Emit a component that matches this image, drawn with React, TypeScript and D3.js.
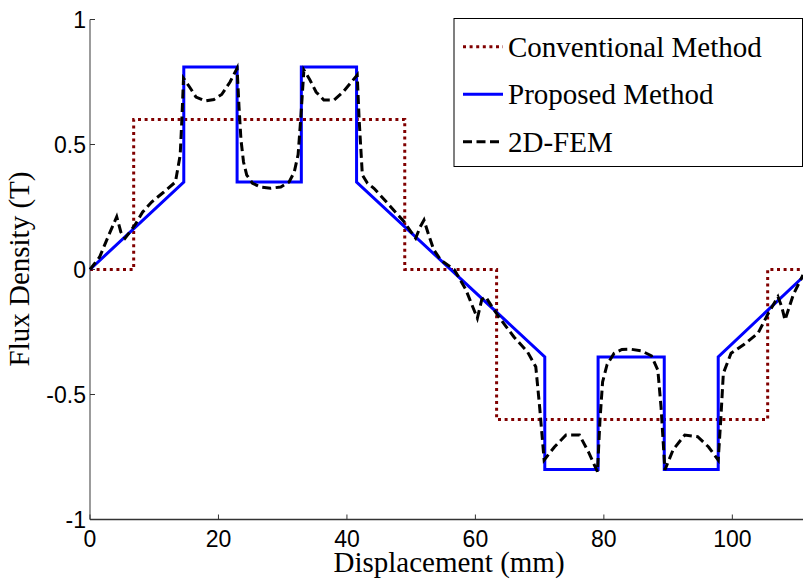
import React, { useEffect, useRef } from "react";
import * as d3 from "d3";

// Conventional method (step waveform)
const convX = [0, 6.8, 6.8, 49.0, 49.0, 63.3, 63.3, 105.5, 105.5, 111];
const convY = [0, 0, 0.6, 0.6, 0, 0, -0.6, -0.6, 0, 0];

// Proposed method
const propX = [0, 14.6, 14.6, 22.9, 22.9, 32.9, 32.9, 41.5, 41.5, 70.8, 70.8, 79.1, 79.1, 89.4, 89.4, 97.8, 97.8, 111];
const propY = [0, 0.35, 0.81, 0.81, 0.35, 0.35, 0.81, 0.81, 0.35, -0.35, -0.8, -0.8, -0.35, -0.35, -0.8, -0.8, -0.35, -0.03];

// 2D-FEM
const femX = [
  0, 1.5, 2.8, 4.16, 4.8, 5.46, 6.2, 7.0, 8.2, 9.6, 11.5, 13.3, 14.04, 14.3, 14.56,
  15.5, 16.5, 17.9, 19.3, 20.5, 21.8, 22.9,
  23.2, 23.5, 23.9, 24.4, 25.3, 26.5, 28.1, 29.7, 31.0, 31.8, 32.4, 32.8, 33.3,
  34.2, 35.2, 36.4, 38.0, 39.4, 40.7, 41.6,
  41.9, 42.4, 43.2, 44.2, 46.5, 48.9, 50.0, 50.7, 51.4, 52.0, 52.7, 53.5, 54.6, 56.7,
  58.5, 60.3, 61.0, 61.6, 62.6, 64.0, 66.0, 68.1, 69.4, 70.0, 70.7,
  72.3, 74.1, 76.2, 77.6, 79.0, 79.4, 79.8, 80.5, 81.6, 82.8, 84.2, 85.8, 87.4, 88.4, 88.9, 89.5,
  90.8, 92.6, 94.6, 96.3, 97.8, 98.2, 98.6, 99.8, 101.8, 104.0, 105.5, 107.1, 107.7, 108.2, 109.5, 111,
];
const femY = [
  0, 0.05, 0.13, 0.211, 0.15, 0.125, 0.15, 0.178, 0.23, 0.27, 0.31, 0.35, 0.458, 0.6, 0.765,
  0.73, 0.69, 0.674, 0.68, 0.7, 0.75, 0.805,
  0.65, 0.52, 0.43, 0.378, 0.345, 0.33, 0.325, 0.33, 0.35, 0.39, 0.46, 0.6, 0.798,
  0.76, 0.71, 0.678, 0.678, 0.71, 0.75, 0.778,
  0.6, 0.378, 0.345, 0.325, 0.26, 0.191, 0.15, 0.125, 0.17, 0.198, 0.14, 0.08, 0.038, 0,
  -0.08, -0.195, -0.12, -0.109, -0.15, -0.202, -0.27, -0.329, -0.389, -0.55, -0.762,
  -0.71, -0.662, -0.662, -0.73, -0.809, -0.6, -0.45, -0.38, -0.335, -0.32, -0.319, -0.325, -0.345, -0.402, -0.55, -0.802,
  -0.72, -0.662, -0.669, -0.71, -0.762, -0.6, -0.415, -0.335, -0.3, -0.255, -0.18, -0.109, -0.15, -0.202, -0.1, -0.022,
];

const xTicks = [0, 20, 40, 60, 80, 100];
const yTicks = [-1, -0.5, 0, 0.5, 1];
const yTickLabels = ["-1", "-0.5", "0", "0.5", "1"];

const series = [
  { name: "Conventional Method", xs: convX, ys: convY, color: "#800000", width: 3, dash: "3,3.6" },
  { name: "Proposed Method", xs: propX, ys: propY, color: "#0000ff", width: 3, dash: null },
  { name: "2D-FEM", xs: femX, ys: femY, color: "#000000", width: 3, dash: "9,4.5" },
];

const App = () => {
  const svgRef = useRef<SVGSVGElement>(null);

  useEffect(() => {
    const svg = d3.select(svgRef.current);
    svg.selectAll("*").remove();

    const x = d3.scaleLinear().domain([0, 111]).range([90, 803]);
    const y = d3.scaleLinear().domain([-1, 1]).range([519.5, 19.5]);

    const line = d3
      .line<[number, number]>()
      .x((d) => x(d[0]))
      .y((d) => y(d[1]));

    // axes
    svg.append("line")
      .attr("x1", 90).attr("x2", 90)
      .attr("y1", y(1)).attr("y2", y(-1))
      .attr("stroke", "#666").attr("stroke-width", 1.3);
    svg.append("line")
      .attr("x1", 90).attr("x2", 803)
      .attr("y1", y(-1)).attr("y2", y(-1))
      .attr("stroke", "#333").attr("stroke-width", 1.3);

    yTicks.forEach((t, i) => {
      svg.append("line")
        .attr("x1", 90).attr("x2", 95)
        .attr("y1", y(t)).attr("y2", y(t))
        .attr("stroke", "#333").attr("stroke-width", 1);
      svg.append("text")
        .attr("x", 86).attr("y", y(t))
        .attr("dy", "0.36em")
        .attr("text-anchor", "end")
        .attr("font-family", "Liberation Sans, Arial, sans-serif")
        .attr("font-size", 23)
        .text(yTickLabels[i]);
    });

    xTicks.forEach((t) => {
      svg.append("line")
        .attr("x1", x(t)).attr("x2", x(t))
        .attr("y1", y(-1)).attr("y2", y(-1) - 5)
        .attr("stroke", "#333").attr("stroke-width", 1);
      svg.append("text")
        .attr("x", x(t)).attr("y", 546.5)
        .attr("text-anchor", "middle")
        .attr("font-family", "Liberation Sans, Arial, sans-serif")
        .attr("font-size", 23)
        .text(t);
    });

    // lines
    series.forEach((s) => {
      const pts = s.xs.map((v, i) => [v, s.ys[i]] as [number, number]);
      svg.append("path")
        .attr("d", line(pts))
        .attr("fill", "none")
        .attr("stroke", s.color)
        .attr("stroke-width", s.width)
        .attr("stroke-dasharray", s.dash)
        .attr("stroke-linejoin", "miter");
    });

    // axis labels
    svg.append("text")
      .attr("x", 449).attr("y", 572)
      .attr("text-anchor", "middle")
      .attr("font-family", "Liberation Serif, Times New Roman, serif")
      .attr("font-size", 29)
      .text("Displacement (mm)");
    svg.append("text")
      .attr("transform", "translate(29,269) rotate(-90)")
      .attr("text-anchor", "middle")
      .attr("font-family", "Liberation Serif, Times New Roman, serif")
      .attr("font-size", 29)
      .text("Flux Density (T)");

    // legend
    const lg = svg.append("g");
    lg.append("rect")
      .attr("x", 454).attr("y", 18.5)
      .attr("width", 348.5).attr("height", 148)
      .attr("fill", "white").attr("stroke", "black").attr("stroke-width", 1);
    series.forEach((s, i) => {
      const cy = 46.7 + i * 47.5;
      lg.append("line")
        .attr("x1", 463).attr("x2", 503)
        .attr("y1", cy).attr("y2", cy)
        .attr("stroke", s.color)
        .attr("stroke-width", s.width)
        .attr("stroke-dasharray", s.dash);
      lg.append("text")
        .attr("x", 508).attr("y", cy + 10)
        .attr("font-family", "Liberation Serif, Times New Roman, serif")
        .attr("font-size", 29)
        .text(s.name);
    });
  }, []);

  return (
    <svg
      ref={svgRef}
      width={803}
      height={581}
      style={{ position: "absolute", left: 0, top: 0, background: "white", display: "block" }}
    />
  );
};

export default App;
